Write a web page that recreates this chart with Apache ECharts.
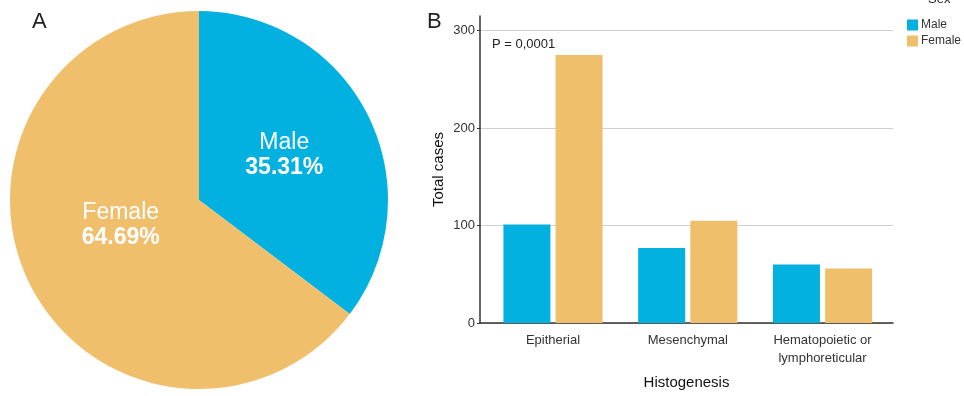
<!DOCTYPE html>
<html>
<head>
<meta charset="utf-8">
<script src="https://cdn.jsdelivr.net/npm/echarts@6/dist/echarts.min.js"></script>
<style>
  html, body { margin: 0; padding: 0; background: #fff; }
  #chart { width: 964px; height: 396px; }
</style>
</head>
<body>
<div id="chart"></div>
<script>
// Panel A: share of cases by sex (percent)
const sexNames = ['Male', 'Female'];
const sexShare = [35.31, 64.69];

// Panel B: total cases per histogenesis group
const categories = ['Epitherial', 'Mesenchymal', 'Hematopoietic or\nlymphoreticular'];
const maleCases = [101, 77, 60];
const femaleCases = [275, 105, 56];
const yTicks = [0, 100, 200, 300];

const BLUE = '#02b1e0';
const GOLD = '#f0bf6c';
const FONT = '"Liberation Sans", Arial, sans-serif';

// category slots on a numeric x axis (0, 1, 2) so the axis can carry side padding
const slots = categories.map((_, i) => i);

const chart = echarts.init(document.getElementById('chart'), null, { renderer: 'canvas' });

chart.setOption({
  animation: false,
  textStyle: { fontFamily: FONT },
  graphic: [
    { type: 'text', left: 32, top: 11, style: { text: 'A', font: '22px ' + FONT, fill: '#222' } },
    { type: 'text', left: 427, top: 11, style: { text: 'B', font: '22px ' + FONT, fill: '#222' } },
    { type: 'text', left: 492, top: 38, style: { text: 'P = 0,0001', font: '13px ' + FONT, fill: '#222' } },
    { type: 'text', left: 928, top: -7, style: { text: 'Sex', font: '13px ' + FONT, fill: '#222' } }
  ],
  legend: {
    orient: 'vertical',
    left: 902,
    top: 14,
    itemWidth: 11,
    itemHeight: 11,
    itemGap: 4,
    icon: 'rect',
    data: sexNames,
    textStyle: { fontSize: 12, color: '#333', padding: [0, 0, 0, -2] }
  },
  grid: { left: 480, right: 71, top: 16, bottom: 73 },
  xAxis: {
    type: 'value',
    min: -0.5417,
    max: 2.523,
    splitLine: { show: false },
    axisLine: { show: true, onZero: false, lineStyle: { color: '#333', width: 1.5 } },
    axisTick: { show: false },
    axisLabel: {
      color: '#333', fontSize: 13, margin: 8, lineHeight: 18,
      customValues: slots,
      showMinLabel: true, showMaxLabel: true,
      formatter: v => categories[Math.round(v)] || ''
    },
    name: 'Histogenesis',
    nameLocation: 'middle',
    nameGap: 52,
    nameTextStyle: { color: '#111', fontSize: 15 }
  },
  yAxis: {
    type: 'value',
    min: yTicks[0],
    max: 315,
    interval: 100,
    axisLine: { show: true, onZero: false, lineStyle: { color: '#333', width: 1.5 } },
    axisTick: { show: true, length: 3, lineStyle: { color: '#333' } },
    axisLabel: {
      color: '#333', fontSize: 13, margin: 5, showMaxLabel: false,
      formatter: v => (yTicks.indexOf(v) >= 0 ? String(v) : '')
    },
    splitLine: { show: true, showMaxLine: false, lineStyle: { color: '#cfcfcf', width: 1 } },
    name: 'Total cases',
    nameLocation: 'middle',
    nameGap: 34,
    nameTextStyle: { color: '#111', fontSize: 15 }
  },
  series: [
    {
      type: 'pie',
      center: [199, 200],
      radius: 189,
      startAngle: 90,
      clockwise: true,
      silent: true,
      legendHoverLink: false,
      label: {
        position: 'inside',
        formatter: '{n|{b}}\n{p|{d}%}',
        rich: {
          n: { color: '#fff', fontSize: 23, lineHeight: 25, fontFamily: FONT },
          p: { color: '#fff', fontSize: 23, fontWeight: 'bold', lineHeight: 25, fontFamily: FONT }
        }
      },
      labelLine: { show: false },
      data: [
        { name: sexNames[0], value: sexShare[0], itemStyle: { color: BLUE }, label: { offset: [-2, -1] } },
        { name: sexNames[1], value: sexShare[1], itemStyle: { color: GOLD }, label: { offset: [9, -18] } }
      ]
    },
    {
      name: 'Male',
      type: 'bar',
      data: slots.map((s, i) => [s, maleCases[i]]),
      barWidth: 47,
      barGap: '11%',
      itemStyle: { color: BLUE }
    },
    {
      name: 'Female',
      type: 'bar',
      data: slots.map((s, i) => [s, femaleCases[i]]),
      barWidth: 47,
      itemStyle: { color: GOLD }
    }
  ]
});
</script>
</body>
</html>
